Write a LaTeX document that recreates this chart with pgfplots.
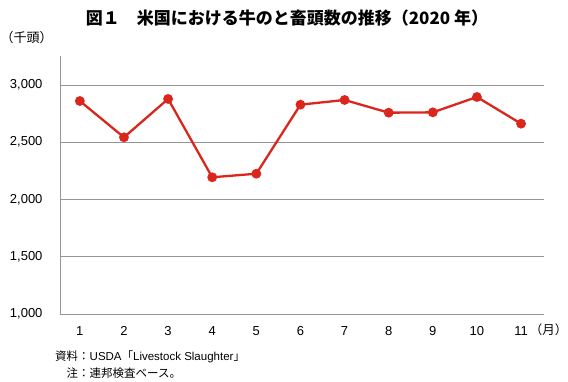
\documentclass[border=0pt]{standalone}
\usepackage{fontspec}
\setmainfont{Liberation Sans}
\newfontfamily\cjk{Noto Sans CJK JP}
\usepackage{pgfplots}
\pgfplotsset{compat=1.18}
\definecolor{linered}{RGB}{218,38,28}
\definecolor{gridgray}{RGB}{150,150,150}
\begin{document}
\begin{tikzpicture}
\path[use as bounding box] (-60pt,-67pt) rectangle (508pt,314pt);
\begin{axis}[
  at={(0pt,0pt)}, anchor=origin,
  scale only axis, width=484pt, height=258pt,
  xmin=0.55, xmax=11.52, ymin=1000, ymax=3253,
  axis lines=left,
  axis line style={-},
  x axis line style={draw=none},
  y axis line style={gridgray, line width=0.6pt},
  xtick={1,...,11}, ytick={1000,1500,...,3000},
  major tick length=0pt,
  ymajorgrids, grid style={gridgray, line width=0.8pt},
  scaled y ticks=false,
  /pgf/number format/assume math mode=true,
  /pgf/number format/fixed,
  /pgf/number format/1000 sep={,},
  ticklabel style={font=\fontsize{13}{15}\selectfont},
  yticklabel style={xshift=-14pt},
  xticklabel style={yshift=-9pt},
  clip=false,
]
\addplot[color=linered, line width=2.3pt, mark=*, mark size=3.7pt, mark options={solid, fill=linered, draw=none}]
coordinates {
(1,2860) (2,2543) (3,2878) (4,2194) (5,2225) (6,2828) (7,2869) (8,2758) (9,2761) (10,2895) (11,2662)
};
\end{axis}
\node[font=\cjk\bfseries\fontsize{17}{19}\selectfont] at (227pt,296pt) {図１　米国における牛のと畜頭数の推移（2020 年）};
\node[anchor=west, inner sep=0pt, font=\cjk\fontsize{13}{14}\selectfont] at (-59.5pt,276pt) {（千頭）};
\node[anchor=east, inner sep=0pt, font=\cjk\fontsize{12.5}{15}\selectfont] at (507.5pt,-16pt) {（月）};
\node[anchor=north west, inner sep=0pt, align=left, font=\fontsize{11.5}{17}\selectfont] at (-5pt,-37pt) {{\cjk 資料：}USDA{\cjk「}Livestock Slaughter{\cjk 」}\\{\cjk\hphantom{資}注：連邦検査ベース。}};
\end{tikzpicture}
\end{document}
